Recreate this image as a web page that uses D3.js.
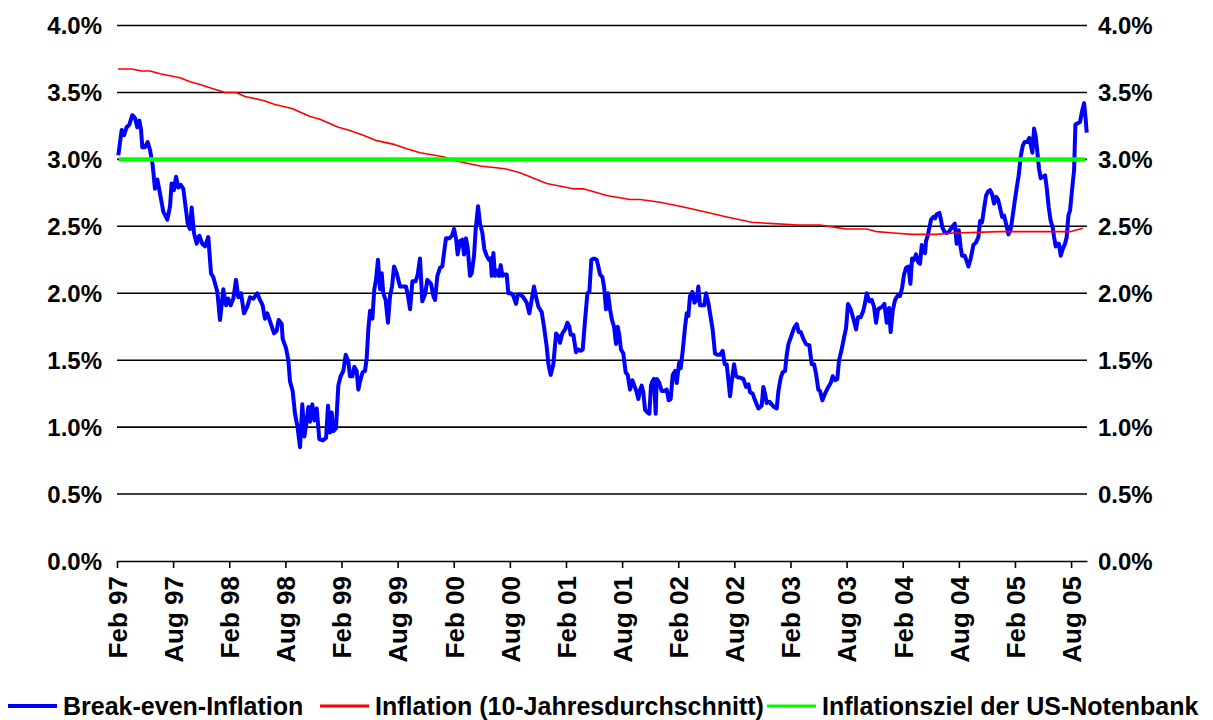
<!DOCTYPE html>
<html>
<head>
<meta charset="utf-8">
<script src="https://cdn.jsdelivr.net/npm/d3@7"></script>
<style>
body { margin: 0; background: #fff; }
svg text { font-family: "Liberation Sans", Arial, sans-serif; font-weight: bold; fill: #000; }
</style>
</head>
<body>
<script>
/* Data: time is months since Feb 1997 */
var breakEvenMonths = [0.14,0.50,0.75,1.03,1.32,1.64,1.92,2.17,2.39,2.57,2.71,2.99,3.28,3.53,3.81,4.06,4.31,4.53,4.95,5.38,
	5.67,5.84,6.09,6.31,6.56,6.81,7.09,7.38,7.56,7.80,7.98,8.23,8.52,8.80,9.12,9.41,9.76,10.05,10.30,10.73,
	11.01,11.37,11.65,11.90,12.15,12.44,12.72,12.97,13.26,13.58,13.93,14.22,14.58,15.00,15.29,15.57,15.82,16.07,16.46,16.79,
	17.07,17.28,17.61,17.71,18.07,18.32,18.50,18.78,19.03,19.28,19.57,19.81,20.03,20.28,20.46,20.63,20.88,21.10,21.35,21.63,
	21.99,22.35,22.56,22.77,22.95,23.13,23.41,23.66,23.91,24.20,24.45,24.73,24.91,25.16,25.37,25.62,25.80,26.05,26.26,26.51,
	26.69,26.87,27.05,27.30,27.51,27.69,27.90,28.12,28.30,28.47,28.72,28.97,29.19,29.40,29.62,29.90,30.26,30.61,30.90,31.11,
	31.33,31.58,31.93,32.15,32.39,32.64,32.93,33.18,33.57,33.82,34.00,34.25,34.53,34.78,34.96,35.17,35.53,35.82,36.03,36.24,
	36.42,36.67,36.92,37.10,37.31,37.49,37.74,37.92,38.17,38.35,38.60,38.81,39.06,39.27,39.52,39.77,39.95,40.06,40.24,40.41,
	40.59,40.84,41.02,41.20,41.41,41.66,41.84,42.12,42.37,42.66,42.84,43.16,43.44,43.80,44.08,
	44.33,44.58,44.80,45.05,45.40,45.65,45.94,46.12,46.36,46.65,46.94,47.18,47.36,47.61,47.90,48.15,48.36,48.50,48.79,49.07,
	49.32,49.57,49.79,50.04,50.29,50.50,50.71,51.00,51.28,51.46,51.64,51.89,52.07,52.28,52.49,52.71,52.92,53.14,53.35,53.53,
	53.71,53.88,54.13,54.38,54.60,54.85,55.09,55.31,55.56,55.74,55.92,56.09,56.27,56.45,56.70,56.91,57.09,57.23,57.41,57.59,
	57.70,57.98,58.23,58.48,58.77,58.98,59.19,59.41,59.66,59.84,60.09,60.26,60.48,60.73,60.91,61.08,61.26,61.51,61.73,61.97,
	62.15,62.33,62.58,62.79,62.97,63.22,63.40,63.68,63.93,64.18,64.47,64.75,64.97,65.18,65.32,65.54,65.75,65.97,66.18,66.43,
	66.61,66.96,67.25,67.50,67.68,67.96,68.21,68.57,68.92,69.10,69.28,69.46,69.74,69.99,70.24,70.53,70.71,70.96,71.17,71.42,
	71.60,71.78,72.13,72.38,72.67,72.88,73.09,73.38,73.66,74.02,74.27,74.52,74.73,74.98,75.16,75.41,75.69,76.05,76.30,76.51,
	76.76,77.01,77.19,77.44,77.73,77.94,78.15,78.44,78.73,79.01,79.22,79.51,79.79,80.01,80.15,80.43,80.68,80.93,81.15,81.36,
	81.57,81.82,82.04,82.29,82.54,82.71,82.93,83.18,83.43,83.71,83.93,84.14,84.36,84.61,84.82,85.00,85.21,85.42,85.67,85.85,
	86.03,86.21,86.39,86.49,86.67,86.85,87.03,87.28,87.46,87.63,87.92,88.06,88.24,88.45,88.70,88.95,
	89.34,89.56,89.77,89.99,90.20,90.34,90.63,90.84,91.02,91.27,91.55,91.84,92.09,92.27,92.48,92.69,92.91,93.12,93.34,93.55,
	93.76,93.98,94.19,94.40,94.62,94.83,95.05,95.30,95.55,95.76,95.94,96.19,96.40,96.61,96.83,97.04,97.33,97.54,97.68,97.86,
	98.04,98.22,98.40,98.57,98.75,98.97,99.22,99.39,99.61,99.82,100.04,100.18,100.36,100.53,100.71,100.89,101.10,101.35,101.53,101.71,
	101.89,102.10,102.32,102.46,102.71,102.96,103.17,103.39,103.56,103.67];

var breakEvenValues = [3.03,3.22,3.18,3.24,3.26,3.33,3.31,3.24,3.29,3.22,3.09,3.09,3.13,3.07,2.96,2.78,2.85,2.77,2.61,2.55,
	2.65,2.82,2.77,2.87,2.79,2.81,2.78,2.62,2.52,2.48,2.64,2.45,2.37,2.43,2.37,2.35,2.42,2.15,2.12,2.01,
	1.80,2.03,1.91,1.96,1.91,1.96,2.10,1.97,2.00,1.85,1.90,1.97,1.96,2.00,1.95,1.91,1.81,1.85,1.77,1.70,
	1.72,1.80,1.77,1.66,1.59,1.50,1.34,1.27,1.10,1.01,0.85,1.17,0.93,1.05,1.15,1.04,1.17,1.05,1.14,0.91,
	0.90,0.92,1.16,0.96,1.11,0.97,0.99,1.31,1.38,1.42,1.54,1.49,1.38,1.38,1.45,1.42,1.28,1.36,1.41,1.42,
	1.51,1.73,1.87,1.81,2.03,2.10,2.25,2.03,2.15,2.00,1.95,1.78,1.98,2.05,2.20,2.15,2.05,2.05,2.05,1.98,
	1.88,2.09,2.09,2.14,2.26,1.94,1.99,2.10,2.07,1.98,1.95,2.13,2.19,2.20,2.30,2.41,2.41,2.43,2.48,2.41,
	2.29,2.39,2.40,2.29,2.41,2.34,2.13,2.15,2.28,2.48,2.65,2.52,2.45,2.33,2.28,2.25,2.26,2.13,2.30,2.13,
	2.17,2.13,2.21,2.13,2.14,2.14,2.00,2.00,1.98,1.92,1.99,1.99,1.97,1.93,1.85,
	1.95,2.05,1.97,1.90,1.86,1.75,1.60,1.47,1.39,1.47,1.70,1.68,1.63,1.70,1.73,1.78,1.75,1.69,1.69,1.56,
	1.58,1.57,1.58,1.80,2.00,2.01,2.25,2.26,2.25,2.20,2.14,2.12,2.05,1.88,2.00,1.88,1.80,1.75,1.62,1.75,
	1.68,1.58,1.55,1.41,1.39,1.28,1.35,1.31,1.26,1.21,1.28,1.31,1.26,1.13,1.11,1.10,1.31,1.34,1.36,1.10,
	1.36,1.33,1.27,1.27,1.28,1.20,1.21,1.39,1.42,1.33,1.48,1.44,1.57,1.75,1.85,1.83,1.98,2.01,1.93,1.95,
	2.05,1.91,1.91,1.91,2.00,1.93,1.85,1.73,1.55,1.54,1.54,1.57,1.47,1.47,1.38,1.23,1.36,1.47,1.38,1.37,
	1.37,1.36,1.30,1.32,1.26,1.25,1.20,1.14,1.16,1.30,1.25,1.18,1.19,1.17,1.15,1.14,1.27,1.37,1.41,1.42,
	1.54,1.62,1.69,1.74,1.77,1.71,1.71,1.66,1.62,1.61,1.47,1.47,1.40,1.28,1.27,1.20,1.25,1.30,1.33,1.38,
	1.35,1.36,1.50,1.57,1.67,1.74,1.92,1.88,1.81,1.73,1.82,1.82,1.87,1.94,2.00,1.94,1.95,1.90,1.78,1.88,
	1.89,1.90,1.92,1.78,1.89,1.71,1.87,1.95,1.98,1.98,2.04,2.14,2.19,2.20,2.07,2.26,2.25,2.29,2.23,2.22,
	2.36,2.31,2.30,2.39,2.43,2.49,2.55,2.57,2.56,2.59,2.60,2.56,2.49,2.46,2.45,2.46,
	2.50,2.52,2.37,2.47,2.34,2.28,2.28,2.24,2.20,2.26,2.36,2.38,2.42,2.54,2.53,2.63,2.73,2.76,2.77,2.74,
	2.67,2.72,2.70,2.64,2.57,2.58,2.52,2.44,2.48,2.58,2.67,2.79,2.88,3.02,3.10,3.13,3.13,3.16,3.11,3.05,
	3.23,3.17,3.05,2.93,2.86,2.87,2.88,2.79,2.64,2.54,2.49,2.42,2.35,2.37,2.37,2.28,2.33,2.37,2.42,2.58,
	2.62,2.77,2.92,3.26,3.27,3.28,3.36,3.42,3.30,3.20];

var avgMonths = [0.1,1.57,2.64,3.53,4.60,6.74,7.81,8.87,9.94,11.55,12.72,13.68,15.64,16.89,18.71,20.64,21.70,23.66,24.73,26.33,
	27.77,29.72,30.97,32.40,34.89,36.14,38.81,41.48,43.09,44.87,45.94,48.79,49.86,52.36,54.85,55.92,58.06,60.19,62.69,65.19,
	67.86,70.17,72.82,75.16,76.95,78.02,80.16,81.23,83.00,84.97,87.64,89.42,94.41,101.89,103.25];
var avgValues = [3.675,3.675,3.66,3.66,3.64,3.61,3.58,3.56,3.535,3.50,3.50,3.47,3.44,3.41,3.38,3.32,3.30,3.24,3.22,3.18,
	3.14,3.11,3.08,3.05,3.02,2.99,2.95,2.93,2.90,2.85,2.82,2.78,2.78,2.73,2.70,2.70,2.68,2.65,2.61,2.57,
	2.53,2.52,2.51,2.51,2.49,2.48,2.48,2.46,2.45,2.44,2.44,2.45,2.46,2.46,2.485];

var targetMonths = [0.2, 103.5];
var targetValues = [3.0, 3.0];

var yTicks = [0, 0.5, 1, 1.5, 2, 2.5, 3, 3.5, 4];
var xTickMonths = [0, 6, 12, 18, 24, 30, 36, 42, 48, 54, 60, 66, 72, 78, 84, 90, 96, 102];
var xTickLabels = ["Feb 97", "Aug 97", "Feb 98", "Aug 98", "Feb 99", "Aug 99", "Feb 00", "Aug 00", "Feb 01",
	"Aug 01", "Feb 02", "Aug 02", "Feb 03", "Aug 03", "Feb 04", "Aug 04", "Feb 05", "Aug 05"];
var seriesNames = ["Break-even-Inflation", "Inflation (10-Jahresdurchschnitt)", "Inflationsziel der US-Notenbank"];

/* Display setup */
var width = 1213, height = 720,
	plot = {left: 117, right: 1087, top: 25.5, bottom: 561},
	svg = d3.select("body").append("svg")
		.attr("width", width)
		.attr("height", height),
	x = d3.scaleLinear().domain([0, 103.7]).range([plot.left, plot.right]),
	y = d3.scaleLinear().domain([0, 4]).range([plot.bottom, plot.top]),
	pct = function(v) { return d3.format(".1f")(v) + "%"; };

var series = [
	{name: seriesNames[0], months: breakEvenMonths, values: breakEvenValues, color: "#0000ff", width: 4},
	{name: seriesNames[1], months: avgMonths, values: avgValues, color: "#ff0000", width: 1.6},
	{name: seriesNames[2], months: targetMonths, values: targetValues, color: "#00ff00", width: 4.5}
];

// gridlines
svg.append("g")
	.selectAll("line")
	.data(yTicks.filter(function(d) { return d > 0; }))
	.enter().append("line")
		.attr("x1", plot.left)
		.attr("x2", plot.right)
		.attr("y1", function(d) { return y(d); })
		.attr("y2", function(d) { return y(d); })
		.style("stroke", "#000")
		.style("stroke-width", 1.6);

// y labels, both sides
["left", "right"].forEach(function(side) {
	svg.append("g")
		.selectAll("text")
		.data(yTicks)
		.enter().append("text")
			.attr("x", side == "left" ? plot.left - 15 : plot.right + 11)
			.attr("y", function(d) { return y(d); })
			.attr("dy", "0.36em")
			.attr("text-anchor", side == "left" ? "end" : "start")
			.style("font-size", "24px")
			.text(pct);
});

// x axis
var xAxis = svg.append("g")
	.attr("transform", "translate(0," + plot.bottom + ")")
	.call(d3.axisBottom(x)
		.tickValues(xTickMonths)
		.tickSize(7)
		.tickSizeOuter(0)
		.tickFormat(function(d, i) { return xTickLabels[i]; }));

xAxis.select(".domain").style("stroke", "#000").style("stroke-width", 1.6);
xAxis.selectAll(".tick line").style("stroke", "#000").style("stroke-width", 1.6);
xAxis.selectAll(".tick text")
	.attr("transform", "rotate(-90)")
	.attr("x", -15)
	.attr("y", 0)
	.attr("dy", "0.36em")
	.attr("text-anchor", "end")
	.style("font-size", "26px")
	.style("font-family", null);

// lines
var line = d3.line()
	.x(function(d) { return x(d[0]); })
	.y(function(d) { return y(d[1]); });

svg.append("g")
	.selectAll("path")
	.data(series)
	.enter().append("path")
		.attr("d", function(s) { return line(d3.zip(s.months, s.values)); })
		.style("fill", "none")
		.style("stroke", function(s) { return s.color; })
		.style("stroke-width", function(s) { return s.width; })
		.style("stroke-linejoin", "round");

// legend
var legendX = [8, 320, 767],
	legendY = 706,
	swatch = 49;

var item = svg.append("g")
	.selectAll("g")
	.data(series)
	.enter().append("g")
		.attr("transform", function(s, i) { return "translate(" + legendX[i] + "," + legendY + ")"; });

item.append("line")
	.attr("x1", 0)
	.attr("x2", swatch)
	.style("stroke", function(s) { return s.color; })
	.style("stroke-width", function(s) { return s.width == 4 ? 4 : 3; });

item.append("text")
	.attr("x", swatch + 6)
	.attr("dy", "0.36em")
	.style("font-size", "25px")
	.text(function(s) { return s.name; });
</script>
</body>
</html>
